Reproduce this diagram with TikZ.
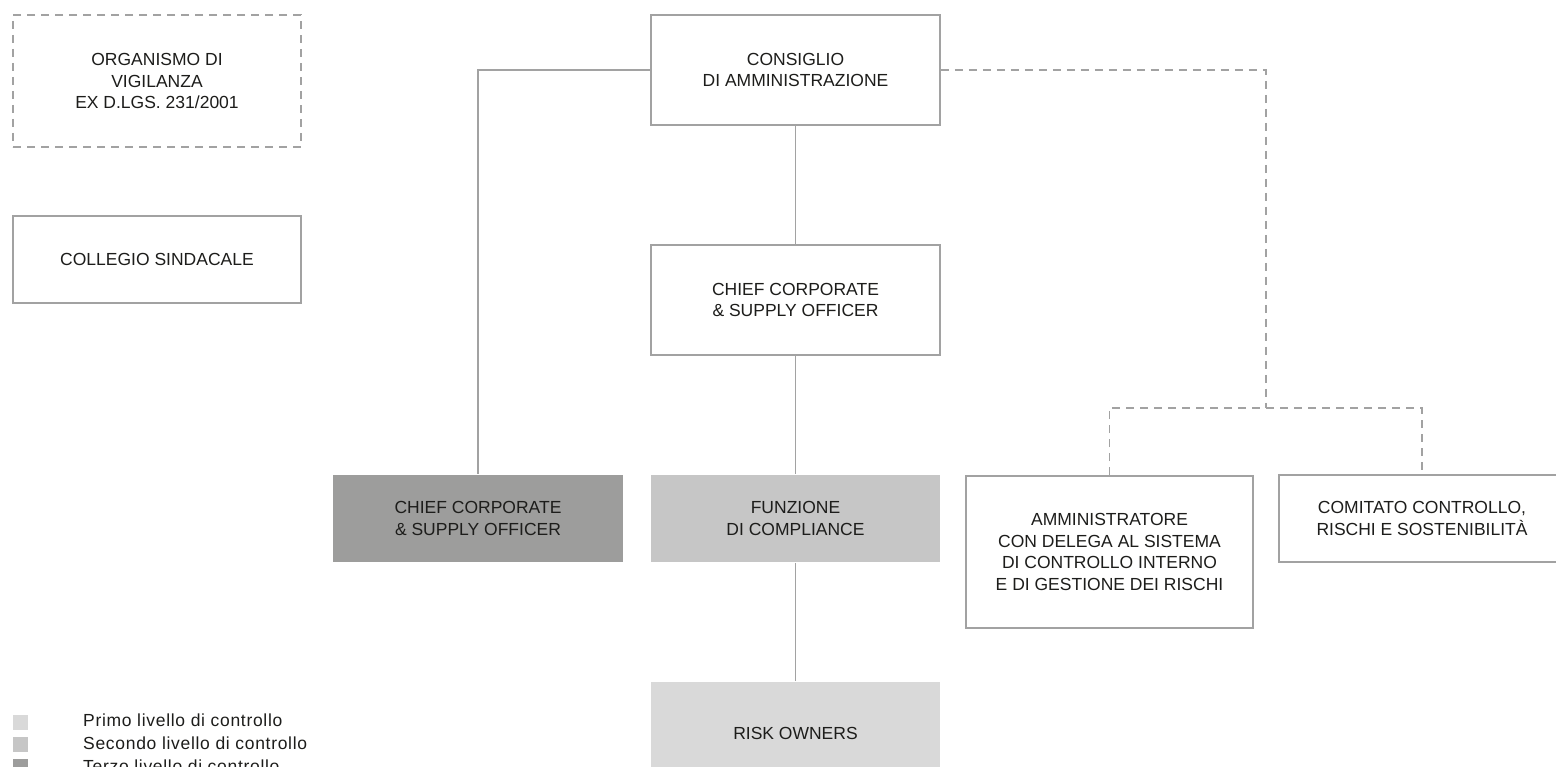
\documentclass[tikz,border=0pt]{standalone}
\usepackage{fontspec}
\setmainfont{Liberation Sans}
\definecolor{linegray}{HTML}{A2A2A2}
\definecolor{txt}{HTML}{1D1D1B}
\definecolor{lvlone}{HTML}{D9D9D9}
\definecolor{lvltwo}{HTML}{C6C6C6}
\definecolor{lvlthree}{HTML}{9D9D9C}
\tikzset{
  box/.style={draw=linegray, line width=1.6pt, fill=white, text=txt, align=center,
    inner sep=0pt, font=\fontsize{17.5}{21.5}\selectfont},
  dbox/.style={box, dash pattern=on 8pt off 6pt},
  fbox/.style={box, draw=none},
  conn/.style={draw=linegray, line width=1.6pt},
  dconn/.style={conn, dash pattern=on 8pt off 6pt},
  legsq/.style={draw=none, minimum width=15pt, minimum height=15pt, inner sep=0pt},
  legtxt/.style={text=txt, inner sep=0pt, anchor=base west,
    font=\fontsize{17.5}{21.5}\selectfont\addfontfeature{LetterSpace=4}}
}
\begin{document}
\begin{tikzpicture}[x=1pt,y=-1pt]
\clip (0,0) rectangle (1556,767);
\fill[white] (0,0) rectangle (1556,767);

% left column
\node[dbox, minimum width=288pt, minimum height=132pt] (odv) at (157,81) {ORGANISMO DI\\VIGILANZA\\EX D.LGS. 231/2001};
\node[box, minimum width=288pt, minimum height=87pt] (cs) at (157,259.5) {COLLEGIO SINDACALE};

% centre column
\node[box, minimum width=289pt, minimum height=110pt] (cda) at (795.5,70) {CONSIGLIO\\DI AMMINISTRAZIONE};
\node[box, minimum width=289pt, minimum height=110pt] (ccso) at (795.5,300) {CHIEF CORPORATE\\\& SUPPLY OFFICER};
\node[fbox, fill=lvltwo, minimum width=289pt, minimum height=87pt] (fc) at (795.5,518.5) {FUNZIONE\\DI COMPLIANCE};
\node[fbox, fill=lvlone, minimum width=289pt, minimum height=102pt] (ro) at (795.5,733) {RISK OWNERS};

% left filled
\node[fbox, fill=lvlthree, minimum width=290pt, minimum height=87pt] (ccsod) at (478,518.5) {CHIEF CORPORATE\\\& SUPPLY OFFICER};

% right
\node[box, minimum width=287pt, minimum height=152pt] (amm) at (1109.5,552) {AMMINISTRATORE\\CON DELEGA AL SISTEMA\\DI CONTROLLO INTERNO\\E DI GESTIONE DEI RISCHI};
\node[box, minimum width=286pt, minimum height=87pt] (ccrs) at (1422,518.5) {COMITATO CONTROLLO,\\RISCHI E SOSTENIBILIT\`A};

\coordinate (split) at (1266,408);

% connectors
\draw[conn] (cda.south) -- (ccso.north);
\draw[conn] (ccso.south) -- (fc.north);
\draw[conn] (fc.south) -- (ro.north);
\draw[conn] (cda.west) -| (ccsod.north);
\draw[dconn] (cda.east) -| (split);
\draw[dconn] (amm.north) -- (amm.north |- split) -- (ccrs.north |- split) -- (ccrs.north);

% legend
\node[legsq, fill=lvlone] (l1) at (20.5,722.5) {};
\node[legsq, fill=lvltwo] (l2) at (20.5,744.5) {};
\node[legsq, fill=lvlthree] (l3) at (20.5,766.5) {};
\node[legtxt] (t1) at (83,726) {Primo livello di controllo};
\node[legtxt] (t2) at (83,749) {Secondo livello di controllo};
\node[legtxt] (t3) at (83,772) {Terzo livello di controllo};
\end{tikzpicture}
\end{document}
